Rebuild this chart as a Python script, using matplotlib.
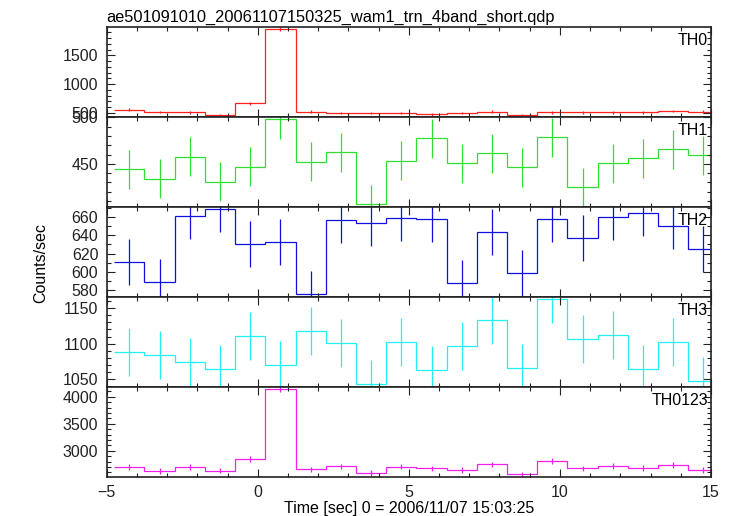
import numpy as np
import matplotlib
matplotlib.use('Agg')
import matplotlib.pyplot as plt
from matplotlib.ticker import MultipleLocator

plt.rcParams['font.family'] = ['Liberation Sans', 'DejaVu Sans']

# bin centres (1 s bins)
time = [-4.25, -3.25, -2.25, -1.25, -0.25, 0.75, 1.75, 2.75, 3.75, 4.75,
        5.75, 6.75, 7.75, 8.75, 9.75, 10.75, 11.75, 12.75, 13.75, 14.75]

th0 = [559, 517, 512, 465, 669, 1953, 524, 500, 500, 500,
       477, 500, 524, 465, 512, 512, 512, 512, 535, 524]
th0_err = [23, 23, 23, 22, 25, 38, 23, 23, 23, 23,
           22, 23, 23, 22, 23, 23, 23, 23, 23, 23]

th1 = [444.3, 434.2, 457.5, 430.6, 447.1, 498.1, 452.5, 462.6, 406.2, 453.6,
       477.6, 450.7, 461.5, 446.4, 478.7, 425.0, 450.7, 456.1, 465.8, 459.3]
th1_err = [21] * 20

th2 = [610.5, 589, 660.8, 668.4, 630.2, 632.4, 575.6, 657, 653, 658.5,
       657.5, 588, 643.3, 598.5, 658.2, 636.7, 660, 664.4, 650.5, 625]
th2_err = [25] * 20

th3 = [1087.7, 1084, 1074.5, 1063.7, 1111.3, 1070.3, 1118, 1101.4, 1043, 1102.4,
       1062.8, 1097.2, 1133.5, 1065, 1163.6, 1106.6, 1112.3, 1064.2, 1101.8, 1047.7]
th3_err = [34] * 20

th0123 = [2693, 2624, 2693, 2630, 2852, 4148, 2655, 2711, 2587, 2704,
          2674, 2637, 2748, 2563, 2809, 2674, 2717, 2680, 2735, 2648]
th0123_err = [52, 52, 52, 52, 53, 65, 52, 52, 51, 52,
              52, 52, 52, 51, 53, 52, 52, 52, 52, 52]

names = ['TH0', 'TH1', 'TH2', 'TH3', 'TH0123']
colors = ['#ff2020', '#30e030', '#1010e0', '#20f0f0', '#f020f0']
ylims = [(430, 1990), (403.5, 500.5), (572.5, 671), (1038.5, 1166), (2513, 4180)]
majors = [500, 50, 20, 50, 500]
minors = [100, 10, 10, 10, 100]

series = [th0, th1, th2, th3, th0123]
errors = [th0_err, th1_err, th2_err, th3_err, th0123_err]

fig = plt.figure(figsize=(7.33, 5.16), dpi=100)

left, width = 106.7 / 733, (711 - 106.7) / 733
top, bottom = 1 - 27 / 516, 1 - 477 / 516
h = (top - bottom) / 5

t = np.array(time)
edges = np.append(t - 0.5, t[-1] + 0.5)

for i in range(5):
    ax = fig.add_axes([left, top - (i + 1) * h, width, h])
    ax.stairs(series[i], edges, color=colors[i], lw=0.9, baseline=None)
    ax.errorbar(t, series[i], yerr=errors[i], fmt='none', ecolor=colors[i], elinewidth=0.9)
    ax.set_xlim(-5, 15)
    ax.set_ylim(*ylims[i])
    ax.xaxis.set_major_locator(MultipleLocator(5))
    ax.xaxis.set_minor_locator(MultipleLocator(1))
    ax.yaxis.set_major_locator(MultipleLocator(majors[i]))
    ax.yaxis.set_minor_locator(MultipleLocator(minors[i]))
    ax.tick_params(which='both', direction='in', top=True, right=True, labelsize=11.5, colors='#222222')
    ax.tick_params(which='major', length=6, width=0.8, pad=6)
    ax.tick_params(which='minor', length=3, width=0.8)
    for s in ax.spines.values():
        s.set_linewidth(1.2)
        s.set_color('#222222')
    if i < 4:
        ax.tick_params(labelbottom=False)
    ax.text(0.995, 0.93, names[i], transform=ax.transAxes, ha='right', va='top', fontsize=11.5)
    if i == 0:
        ax.set_title('ae501091010_20061107150325_wam1_trn_4band_short.qdp',
                     loc='left', fontsize=11.8, pad=4)

fig.text(0.055, 0.49, 'Counts/sec', rotation=90, ha='center', va='center', fontsize=11.5)
fig.text(left + width / 2, 1 - 508 / 516, 'Time [sec] 0 = 2006/11/07 15:03:25',
         ha='center', va='center', fontsize=11.5)

fig.savefig('out.png', dpi=100)
